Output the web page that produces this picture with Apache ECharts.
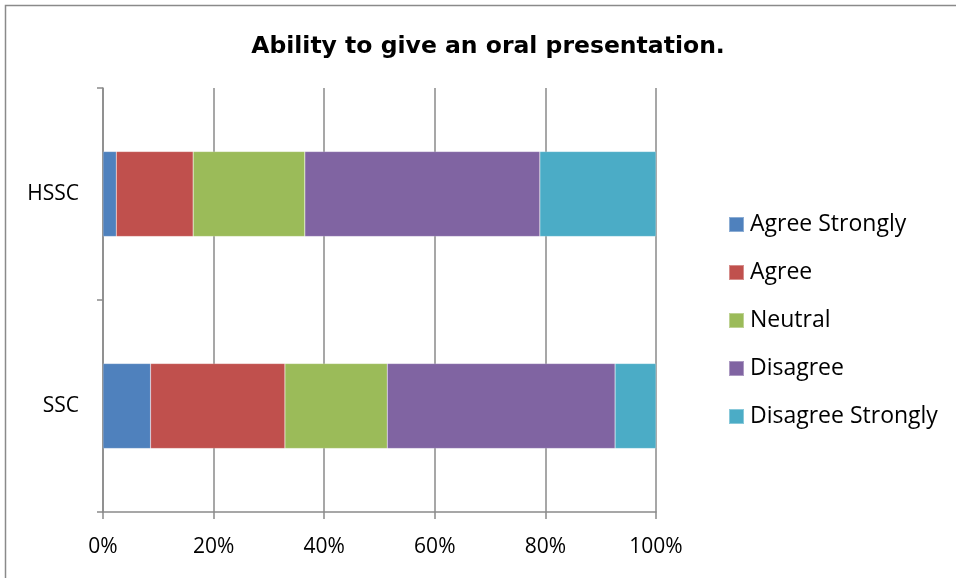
<!DOCTYPE html>
<html>
<head>
<meta charset="utf-8">
<script src="https://cdn.jsdelivr.net/npm/echarts@6/dist/echarts.min.js"></script>
<style>html,body{margin:0;padding:0;background:#fff}#c{width:956px;height:578px}</style>
</head>
<body>
<div id="c"></div>
<script>
const categories = ['SSC', 'HSSC'];
const seriesNames = ['Agree Strongly', 'Agree', 'Neutral', 'Disagree', 'Disagree Strongly'];
const agreeStrongly = [8.6, 2.4];
const agree = [24.3, 13.9];
const neutral = [18.5, 20.2];
const disagree = [41.2, 42.5];
const disagreeStrongly = [7.4, 21.0];
const xTicks = [0, 20, 40, 60, 80, 100];
const colors = ['#4F81BD', '#C0504D', '#9BBB59', '#8064A2', '#4BACC6'];
const values = [agreeStrongly, agree, neutral, disagree, disagreeStrongly];

const chart = echarts.init(document.getElementById('c'));
const font = '"Open Sans", sans-serif';
chart.setOption({
  animation: false,
  color: colors,
  title: {
    text: 'Ability to give an oral presentation.',
    left: 483, top: 30, textAlign: 'center',
    textStyle: {fontFamily: '"DejaVu Sans", sans-serif', fontWeight: 'bold', fontSize: 23.5, color: '#000'}
  },
  graphic: [{type: 'rect', shape: {x: 5.5, y: 5.5, width: 960, height: 600}, style: {fill: 'none', stroke: '#8a8a8a', lineWidth: 1.5}}],
  legend: {
    orient: 'vertical', left: 723, top: 208,
    itemWidth: 15, itemHeight: 15, itemGap: 25,
    icon: 'rect',
    data: seriesNames,
    textStyle: {fontFamily: font, fontSize: 23, color: '#000', lineHeight: 21, padding: [0, 0, 0, 1]}
  },
  grid: {left: 103, right: 300, top: 88, bottom: 66},
  xAxis: {
    type: 'value', min: xTicks[0], max: xTicks[xTicks.length - 1], interval: 20,
    axisLine: {show: true, lineStyle: {color: '#8a8a8a', width: 1.5}},
    axisTick: {show: true, length: 7, lineStyle: {color: '#8a8a8a', width: 1.5}},
    splitLine: {show: true, lineStyle: {color: '#8a8a8a', width: 1.5}},
    axisLabel: {formatter: '{value}%', fontFamily: font, fontSize: 21, color: '#000', margin: 25}
  },
  yAxis: {
    type: 'category', data: categories,
    axisLine: {show: true, lineStyle: {color: '#8a8a8a', width: 1.5}},
    axisTick: {show: true, length: 6, lineStyle: {color: '#8a8a8a', width: 1.5}},
    axisLabel: {fontFamily: font, fontSize: 21, color: '#000', margin: 24}
  },
  series: seriesNames.map((n, i) => ({
    name: n, type: 'bar', stack: 'total', data: values[i], barWidth: 85,
    itemStyle: {borderColor: 'rgba(255,255,255,0.35)', borderWidth: 0.5}
  }))
});
</script>
</body>
</html>
